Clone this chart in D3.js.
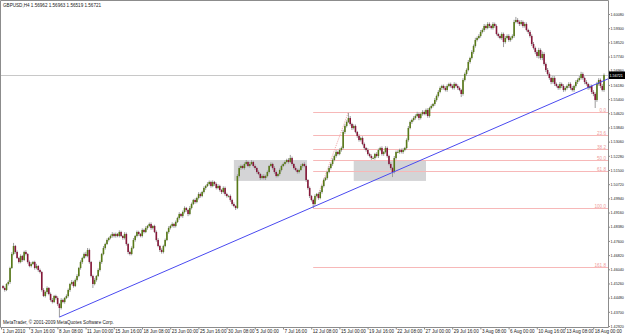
<!DOCTYPE html>
<html><head><meta charset="utf-8">
<script src="https://cdn.jsdelivr.net/npm/d3@7/dist/d3.min.js"></script>
<style>
body{margin:0;background:#fff;}
svg text{font-family:"Liberation Sans",Arial,sans-serif;}
</style></head><body>
<svg id="chart" width="625" height="334"></svg>
<script>
// chart texts
var symbolTitle = "GBPUSD,H4  1.56962 1.56963 1.56519 1.56721";
var copyright = "MetaTrader, \u00a9 2001-2009 MetaQuotes Software Corp.";

// H4 bars, 1 Jun 2010 -> 18 Aug 2010 (open = previous close)
var firstOpen = 1.4512;
var closes = [
  1.4501,1.4490,1.4523,1.4534,1.4611,1.4688,1.4732,1.4699,1.4666,1.4644,1.4677,1.4655,1.4699,1.4688,1.4644,1.4622,
  1.4633,1.4644,1.4611,1.4622,1.4600,1.4589,1.4490,1.4457,1.4479,1.4501,1.4468,1.4435,1.4424,1.4457,1.4446,1.4413,
  1.4391,1.4435,1.4424,1.4446,1.4457,1.4490,1.4523,1.4534,1.4512,1.4545,1.4567,1.4611,1.4644,1.4666,1.4688,1.4677,
  1.4710,1.4644,1.4567,1.4523,1.4545,1.4567,1.4600,1.4644,1.4688,1.4721,1.4743,1.4765,1.4776,1.4787,1.4798,1.4787,
  1.4798,1.4787,1.4809,1.4787,1.4776,1.4798,1.4743,1.4699,1.4688,1.4721,1.4765,1.4787,1.4809,1.4798,1.4787,1.4820,
  1.4809,1.4831,1.4842,1.4853,1.4831,1.4842,1.4809,1.4765,1.4732,1.4710,1.4699,1.4732,1.4765,1.4809,1.4831,1.4842,
  1.4853,1.4842,1.4864,1.4886,1.4908,1.4897,1.4919,1.4941,1.4930,1.4908,1.4941,1.4963,1.4985,1.4974,1.4996,1.5018,
  1.5007,1.5029,1.5051,1.5062,1.5073,1.5084,1.5062,1.5084,1.5073,1.5051,1.5062,1.5040,1.5029,1.5051,1.5018,1.5007,
  1.5007,1.4985,1.4963,1.4952,1.4941,1.5117,1.5161,1.5172,1.5161,1.5183,1.5194,1.5172,1.5183,1.5194,1.5172,1.5161,
  1.5139,1.5128,1.5106,1.5117,1.5106,1.5117,1.5139,1.5172,1.5183,1.5161,1.5139,1.5117,1.5128,1.5150,1.5172,1.5183,
  1.5194,1.5205,1.5194,1.5216,1.5183,1.5161,1.5150,1.5139,1.5150,1.5172,1.5183,1.5172,1.5095,1.5051,1.5007,1.4985,
  1.4963,1.5007,1.5018,1.4996,1.5029,1.5062,1.5095,1.5106,1.5139,1.5161,1.5183,1.5205,1.5227,1.5249,1.5238,1.5260,
  1.5271,1.5359,1.5392,1.5414,1.5436,1.5403,1.5381,1.5392,1.5359,1.5337,1.5315,1.5326,1.5293,1.5271,1.5260,1.5238,
  1.5227,1.5216,1.5216,1.5238,1.5227,1.5260,1.5271,1.5238,1.5249,1.5271,1.5227,1.5183,1.5161,1.5139,1.5216,1.5249,
  1.5249,1.5260,1.5249,1.5260,1.5271,1.5315,1.5381,1.5414,1.5425,1.5436,1.5447,1.5458,1.5436,1.5458,1.5469,1.5458,
  1.5480,1.5447,1.5491,1.5502,1.5513,1.5535,1.5557,1.5579,1.5601,1.5612,1.5601,1.5590,1.5612,1.5623,1.5612,1.5601,
  1.5623,1.5612,1.5601,1.5590,1.5568,1.5645,1.5678,1.5700,1.5744,1.5766,1.5799,1.5832,1.5865,1.5876,1.5887,1.5909,
  1.5920,1.5942,1.5931,1.5953,1.5942,1.5931,1.5953,1.5942,1.5898,1.5887,1.5876,1.5898,1.5854,1.5876,1.5887,1.5865,
  1.5876,1.5887,1.5964,1.5975,1.5964,1.5953,1.5964,1.5942,1.5953,1.5920,1.5909,1.5887,1.5843,1.5821,1.5799,1.5777,
  1.5810,1.5766,1.5788,1.5733,1.5700,1.5678,1.5656,1.5634,1.5656,1.5623,1.5612,1.5601,1.5623,1.5612,1.5590,1.5601,
  1.5612,1.5623,1.5601,1.5590,1.5612,1.5634,1.5645,1.5656,1.5678,1.5656,1.5634,1.5623,1.5601,1.5612,1.5579,1.5568,
  1.5535,1.5623,1.5645,1.5612,1.5590,1.5672
];
// shadow lengths in pips above the body / below the body
var wickUp = [
  6,8,5,9,7,10,17,6,8,5,9,6,7,10,5,8,
  9,6,7,12,5,8,6,10,7,9,5,8,11,6,7,9,
  6,10,7,5,9,8,6,11,7,8,10,6,9,7,8,12,
  11,8,6,7,10,5,9,8,6,11,7,9,6,8,10,7,
  8,6,9,7,5,10,8,6,7,9,11,6,8,7,5,9,
  7,10,6,8,9,5,7,8,10,6,9,7,8,6,10,7,
  9,6,8,7,10,5,8,9,6,7,11,8,6,9,7,10,
  8,7,9,6,10,8,7,9,6,8,10,7,6,9,8,7,
  6,8,7,9,5,10,12,8,7,9,11,6,11,10,7,9,
  7,9,6,8,10,7,8,6,9,7,10,8,6,9,7,8,
  9,7,10,17,8,6,9,7,8,10,6,9,7,5,8,6,
  7,9,6,8,10,7,9,8,6,11,7,9,8,10,7,9,
  8,12,10,9,28,11,7,9,8,6,10,7,9,8,6,10,
  7,9,8,6,10,8,7,9,6,10,8,7,9,6,11,8,
  9,7,8,10,6,9,11,8,7,10,9,12,8,7,10,9,
  8,10,7,9,6,11,8,10,9,7,8,10,9,7,8,9,
  10,7,9,8,6,10,8,9,11,7,10,8,12,9,10,11,
  9,11,8,10,9,7,10,8,9,7,10,9,8,11,9,10,
  8,9,12,17,10,9,11,8,10,9,7,10,9,11,8,10,
  12,9,14,10,8,11,9,7,12,10,8,9,11,8,10,9,
  8,10,9,11,7,10,9,11,12,9,8,10,7,9,8,10,
  9,12,10,8,11,9
];
var wickDown = [
  7,9,6,8,10,5,7,9,6,8,7,10,6,8,9,7,
  8,6,9,7,10,8,9,6,8,10,7,9,8,6,9,10,
  50,8,7,9,6,8,10,7,9,6,8,7,9,10,6,8,
  7,9,8,22,7,9,6,8,10,7,9,6,8,7,9,8,
  9,7,8,6,10,8,9,12,8,7,6,9,8,10,7,8,
  8,6,9,7,10,8,6,9,7,11,9,8,7,6,9,8,
  7,10,8,6,9,7,10,8,9,12,7,8,6,9,7,8,
  9,7,8,10,6,8,9,7,10,8,7,9,11,8,10,9,
  8,10,9,7,11,6,8,10,7,9,8,7,9,6,8,10,
  9,7,10,8,9,11,7,8,6,9,10,8,7,9,8,6,
  8,7,9,6,10,8,7,9,8,6,9,7,10,9,11,8,
  22,9,8,10,7,9,8,6,9,7,8,10,7,9,8,7,
  9,7,10,8,6,9,11,8,7,10,9,8,7,10,9,8,
  8,10,7,9,8,11,7,9,10,8,9,7,10,28,8,9,
  7,9,8,10,7,8,9,7,10,8,9,7,12,8,9,7,
  8,10,9,7,8,10,9,8,7,11,9,8,10,7,9,8,
  9,8,10,7,17,9,8,10,7,9,8,10,9,8,7,9,
  8,10,9,7,11,8,9,10,8,9,7,10,28,9,8,10,
  9,8,10,7,9,11,8,10,9,8,10,9,11,8,12,10,
  14,10,12,9,11,8,10,12,9,11,8,10,9,11,10,8,
  9,11,10,8,10,9,11,8,9,10,12,9,10,8,11,12,
  44,10,9,12,8,10
];

var timeLabels = ["1 Jun 2010","3 Jun 16:00","8 Jun 08:00","11 Jun 00:00","15 Jun 16:00","18 Jun 08:00",
  "23 Jun 00:00","25 Jun 16:00","30 Jun 08:00","5 Jul 00:00","7 Jul 16:00","12 Jul 08:00","15 Jul 00:00",
  "19 Jul 16:00","22 Jul 08:00","27 Jul 00:00","29 Jul 16:00","3 Aug 08:00","6 Aug 00:00","10 Aug 16:00",
  "13 Aug 08:00","18 Aug 00:00"];
var timeLabelBars = [0,16,32,48,64,80,96,112,128,144,160,176,192,208,224,240,256,272,288,304,320,336];
var priceLabels = ["1.60080","1.59300","1.58520","1.57740","1.56960","1.56180","1.55400","1.54620",
  "1.53840","1.53060","1.52280","1.51500","1.50720","1.49940","1.49160","1.48380","1.47600","1.46820",
  "1.46040","1.45260","1.44480","1.43700","1.42920"];
var lastPrice = 1.56721;

// objects on the chart
var fibRatios = [0, 0.236, 0.382, 0.5, 0.618, 1, 1.618];
var fibLabels = ["0.0","23.6","38.2","50.0","61.8","100.0","161.8"];
var fibFromBar = 176, fibToBar = 196, fibLow = 1.4941, fibHigh = 1.5469;
var trendBars = [32, 338], trendPrices = [1.4341, 1.5629];
var boxFrom = [131, 199], boxTo = [172.5, 240], boxTop = [1.5205, 1.5205], boxBottom = [1.5090, 1.5090];

// ---- layout ----
var svg = d3.select("#chart"),
    plotW = 608, plotH = 327;

var bars = closes.map(function(c, i) {
  var o = i === 0 ? firstOpen : closes[i - 1];
  return {i: i, o: o, c: c,
    h: Math.max(o, c) + wickUp[i] * 0.0001,
    l: Math.min(o, c) - wickDown[i] * 0.0001};
});

var x = d3.scaleLinear().domain([0, 341]).range([3, 604]);
var y = d3.scaleLinear().domain([1.4292, 1.6008]).range([326, 14]);

svg.append("defs").append("clipPath").attr("id", "plot")
  .append("rect").attr("width", plotW).attr("height", plotH);

var g = svg.append("g").attr("clip-path", "url(#plot)");

// rectangles (background)
g.selectAll("rect.box").data(boxFrom).enter().append("rect")
  .attr("class", "box")
  .attr("x", function(d, k) { return x(boxFrom[k]); })
  .attr("width", function(d, k) { return x(boxTo[k]) - x(boxFrom[k]); })
  .attr("y", function(d, k) { return y(boxTop[k]); })
  .attr("height", function(d, k) { return y(boxBottom[k]) - y(boxTop[k]); })
  .attr("fill", "#d4d4d6");

// fibo levels
var fibs = fibRatios.map(function(r, k) {
  return {p: fibHigh - r * (fibHigh - fibLow), label: fibLabels[k]};
});
g.selectAll("line.fib").data(fibs).enter().append("line")
  .attr("x1", x(fibFromBar)).attr("x2", plotW)
  .attr("y1", function(d) { return Math.round(y(d.p)) + 0.5; })
  .attr("y2", function(d) { return Math.round(y(d.p)) + 0.5; })
  .attr("stroke", "#f7b8b8").attr("stroke-width", 1);
g.selectAll("text.fib").data(fibs).enter().append("text")
  .attr("x", 606).attr("y", function(d) { return Math.round(y(d.p)) - 0.5; })
  .attr("text-anchor", "end").attr("font-size", 4.6).attr("fill", "#ee9a9a")
  .text(function(d) { return d.label; });
g.append("line")
  .attr("x1", x(fibFromBar)).attr("y1", y(fibLow))
  .attr("x2", x(fibToBar)).attr("y2", y(fibHigh))
  .attr("stroke", "#f0a8a8").attr("stroke-dasharray", "1,1");

// current price line
g.append("line")
  .attr("x1", 0).attr("x2", plotW)
  .attr("y1", Math.round(y(lastPrice)) + 0.5).attr("y2", Math.round(y(lastPrice)) + 0.5)
  .attr("stroke", "#c8c8c8");

// candles
var cg = g.selectAll("g.bar").data(bars).enter().append("g");
cg.append("line")
  .attr("x1", function(d) { return x(d.i); }).attr("x2", function(d) { return x(d.i); })
  .attr("y1", function(d) { return y(d.h); }).attr("y2", function(d) { return y(d.l); })
  .attr("stroke", "#9c9c9c").attr("stroke-width", 1);
cg.append("rect")
  .attr("x", function(d) { return x(d.i) - 0.8; }).attr("width", 1.6)
  .attr("y", function(d) { return y(Math.max(d.o, d.c)); })
  .attr("height", function(d) { return Math.max(0.8, Math.abs(y(d.o) - y(d.c))); })
  .attr("fill", function(d) { return d.c >= d.o ? "#587a18" : "#86183a"; });

// trend line (ray to the right edge)
var slope = (trendPrices[1] - trendPrices[0]) / (trendBars[1] - trendBars[0]);
g.append("line")
  .attr("x1", x(trendBars[0])).attr("y1", y(trendPrices[0]))
  .attr("x2", x(345)).attr("y2", y(trendPrices[0] + slope * (345 - trendBars[0])))
  .attr("stroke", "#4a4af0").attr("stroke-width", 1);

// frame
svg.append("path")
  .attr("d", "M0.5," + plotH + ".5V0.5H" + plotW + ".5V" + plotH + ".5H0.5")
  .attr("fill", "none").attr("stroke", "#8c8c8c");

// price axis (small font so the labels fit the 16px strip)
svg.append("g")
  .attr("transform", "translate(" + (plotW + 0.5) + ",0)")
  .call(d3.axisRight(y)
    .tickValues(priceLabels.map(Number))
    .tickFormat(function(d, k) { return priceLabels[k]; })
    .tickSize(1.5).tickSizeOuter(0).tickPadding(0.5))
  .call(function(a) {
    a.select(".domain").remove();
    a.selectAll("line").attr("stroke", "#8c8c8c");
    a.selectAll("text").attr("font-size", 3.7).attr("fill", "#222");
  });

// time axis
svg.append("g")
  .attr("transform", "translate(0," + (plotH + 0.5) + ")")
  .call(d3.axisBottom(x)
    .tickValues(timeLabelBars)
    .tickFormat(function(d, k) { return timeLabels[k]; })
    .tickSize(2).tickSizeOuter(0).tickPadding(0))
  .call(function(a) {
    a.select(".domain").remove();
    a.selectAll(".tick").attr("transform", function(d) { return "translate(" + (x(d) - 1.5) + ",0)"; });
    a.selectAll("line").attr("stroke", "#8c8c8c");
    a.selectAll("text").attr("font-size", 4.6).attr("font-family", "Liberation Sans, Arial, sans-serif")
      .attr("fill", "#222").attr("text-anchor", "start").attr("x", 1).attr("dy", 0).attr("y", 5);
  });

// last price marker on the axis
var ly = Math.round(y(lastPrice));
svg.append("rect").attr("x", plotW + 1).attr("y", ly - 3.5).attr("width", 16).attr("height", 7.5).attr("fill", "#000");
svg.append("text").attr("x", plotW + 1.5).attr("y", ly + 1.6)
  .attr("font-size", 3.7).attr("fill", "#fff")
  .text(lastPrice.toFixed(5));

// title and copyright
svg.append("text").attr("x", 3).attr("y", 7).attr("font-size", 4.6).attr("fill", "#222").text(symbolTitle);
svg.append("text").attr("x", 3).attr("y", 323.5).attr("font-size", 4.6).attr("fill", "#222").text(copyright);
</script>
</body></html>
